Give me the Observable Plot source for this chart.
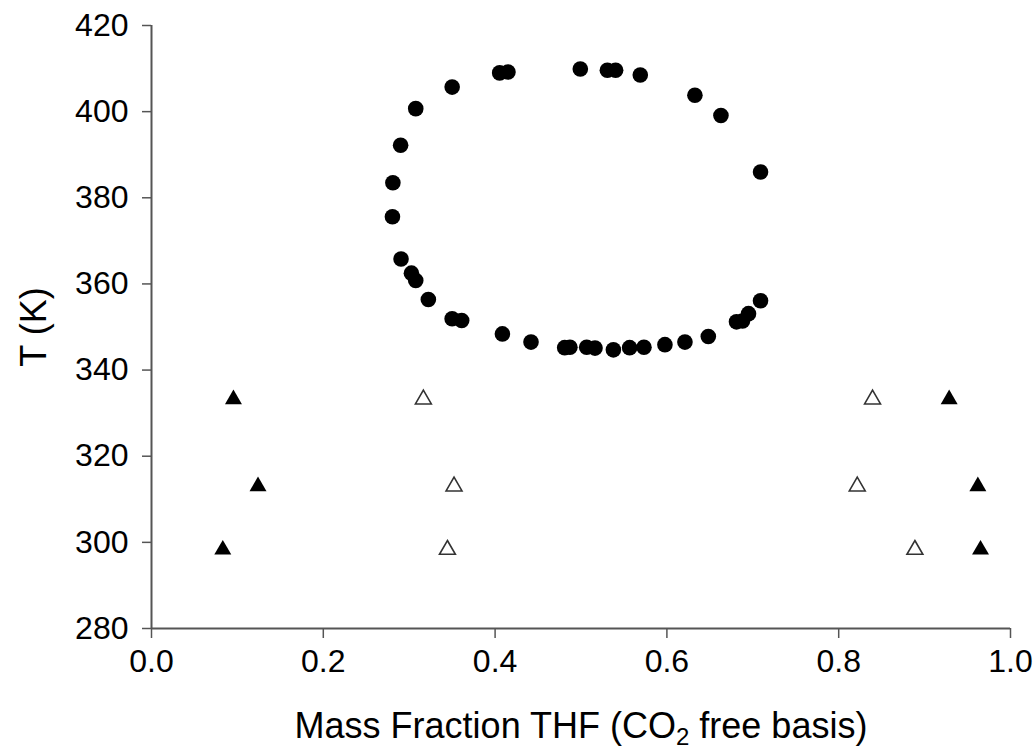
<!DOCTYPE html>
<html>
<head>
<meta charset="utf-8">
<script src="https://cdn.jsdelivr.net/npm/d3@7"></script>
<script src="https://cdn.jsdelivr.net/npm/@observablehq/plot@0.6"></script>
<style>
  html, body { margin: 0; padding: 0; background: #fff; }
  #chart { width: 1036px; height: 755px; }
</style>
</head>
<body>
<div id="chart"></div>
<script>
// Closed-loop L-L-V boundary (filled circles)
const loopX = [0.281, 0.2805, 0.290, 0.3076, 0.350, 0.4053, 0.415, 0.4992, 0.5307, 0.5403, 0.569, 0.6326, 0.6629, 0.709,
               0.709, 0.695, 0.688, 0.681, 0.6482, 0.621, 0.5977, 0.5733, 0.5566, 0.5377, 0.5163, 0.5066, 0.4871, 0.481,
               0.4418, 0.4085, 0.3611, 0.350, 0.3223, 0.3076, 0.3026, 0.2905];
const loopT = [383.5, 375.6, 392.2, 400.7, 405.7, 409.0, 409.2, 409.9, 409.6, 409.6, 408.5, 403.8, 399.1, 386.0,
               356.1, 353.1, 351.4, 351.2, 347.8, 346.5, 345.9, 345.3, 345.2, 344.7, 345.1, 345.3, 345.3, 345.2,
               346.5, 348.4, 351.5, 351.9, 356.4, 360.8, 362.5, 365.8];

// Filled triangles
const filledX = [0.0954, 0.124, 0.083, 0.9286, 0.962, 0.9651];
const filledT = [333.2, 313.0, 298.3, 333.2, 313.0, 298.3];

// Open triangles
const openX = [0.3165, 0.3522, 0.3445, 0.8394, 0.8216, 0.8887];
const openT = [333.2, 313.0, 298.3, 333.2, 313.0, 298.3];

const xTicks = [0.0, 0.2, 0.4, 0.6, 0.8, 1.0];
const yTicks = [280, 300, 320, 340, 360, 380, 400, 420];

const loop = loopX.map((x, i) => ({x, T: loopT[i]}));
const filled = filledX.map((x, i) => ({x, T: filledT[i]}));
const open = openX.map((x, i) => ({x, T: openT[i]}));

const axisColor = "#555";
const font = "'Liberation Sans', Arial, sans-serif";

const chart = Plot.plot({
  width: 1036,
  height: 755,
  marginLeft: 151,
  marginRight: 26,
  marginTop: 25,
  marginBottom: 127,
  style: { fontFamily: font, background: "#fff", color: "#000" },
  x: { domain: [0, 1] },
  y: { domain: [280, 420] },
  marks: [
    Plot.axisX({ ticks: xTicks, tickFormat: d3.format(".1f"), tickSize: 10, tickPadding: 11,
                 fontSize: 32, stroke: axisColor, strokeWidth: 1.5, label: null, fill: "#000" }),
    Plot.axisY({ ticks: yTicks, tickSize: 9, tickPadding: 14,
                 fontSize: 32, stroke: axisColor, strokeWidth: 1.5, label: null, fill: "#000" }),
    Plot.ruleX([0], { stroke: axisColor, strokeWidth: 2 }),
    Plot.ruleY([280], { stroke: axisColor, strokeWidth: 2 }),
    Plot.dot(loop, { x: "x", y: "T", r: 7.8, fill: "#000", stroke: "none" }),
    Plot.dot(filled, { x: "x", y: "T", symbol: "triangle", r: 6.3, fill: "#000", stroke: "none" }),
    Plot.dot(open, { x: "x", y: "T", symbol: "triangle", r: 5.9, fill: "#fff", stroke: "#333", strokeWidth: 1.6 })
  ]
});

// Axis titles (with subscript for CO2)
const svg = d3.select(chart);
svg.append("text")
  .attr("transform", "translate(36,327) rotate(-90)")
  .attr("text-anchor", "middle")
  .attr("dominant-baseline", "middle")
  .attr("font-family", font)
  .attr("font-size", 36)
  .attr("fill", "#000")
  .text("T (K)");

const xt = svg.append("text")
  .attr("x", 581)
  .attr("y", 738)
  .attr("text-anchor", "middle")
  .attr("font-family", font)
  .attr("font-size", 36)
  .attr("fill", "#000");
xt.append("tspan").text("Mass Fraction THF (CO");
xt.append("tspan").attr("font-size", 24).attr("dy", 7).text("2");
xt.append("tspan").attr("dy", -7).text(" free basis)");

document.getElementById("chart").appendChild(chart);
</script>
</body>
</html>
